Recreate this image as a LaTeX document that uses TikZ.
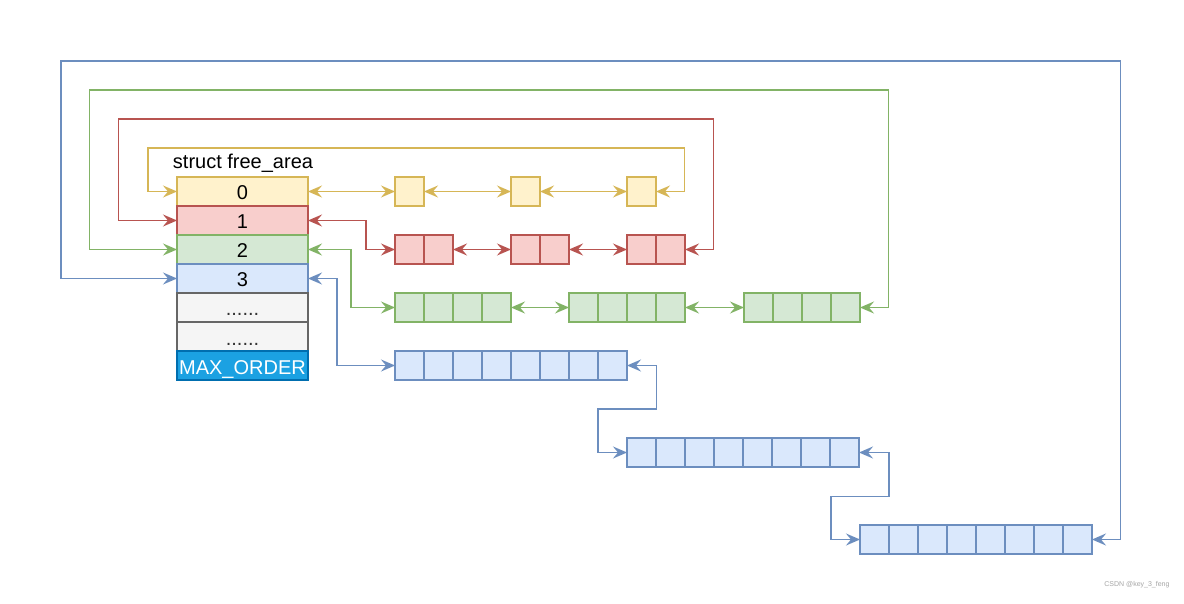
\documentclass[tikz,border=0pt]{standalone}
\usepackage{fontspec}
\setmainfont{Liberation Sans}
\usetikzlibrary{arrows.meta,calc}
\definecolor{yfill}{HTML}{FFF2CC}\definecolor{ydraw}{HTML}{D6B656}
\definecolor{rfill}{HTML}{F8CECC}\definecolor{rdraw}{HTML}{B85450}
\definecolor{gfill}{HTML}{D5E8D4}\definecolor{gdraw}{HTML}{82B366}
\definecolor{bfill}{HTML}{DAE8FC}\definecolor{bdraw}{HTML}{6C8EBF}
\definecolor{kfill}{HTML}{F5F5F5}\definecolor{kdraw}{HTML}{666666}
\definecolor{mfill}{HTML}{1BA1E2}\definecolor{mdraw}{HTML}{006EAF}
\begin{document}
\begin{tikzpicture}[x=1pt,y=-1pt,
  cell/.style={draw, line width=1.8pt, minimum width=29pt, minimum height=29pt, inner sep=0pt, outer sep=0pt},
  ycell/.style={cell, fill=yfill, draw=ydraw},
  rcell/.style={cell, fill=rfill, draw=rdraw},
  gcell/.style={cell, fill=gfill, draw=gdraw},
  bcell/.style={cell, fill=bfill, draw=bdraw},
  trow/.style={draw, line width=1.8pt, minimum width=131pt, minimum height=29pt, inner sep=0pt, outer sep=0pt, text height=17pt, text depth=0pt, font=\fontsize{20}{24}\selectfont},
  link/.style={line width=1.7pt, {Stealth[length=14pt,width=12pt,inset=5pt]}-{Stealth[length=14pt,width=12pt,inset=5pt]}},
  ylink/.style={link, color=ydraw},
  rlink/.style={link, color=rdraw},
  glink/.style={link, color=gdraw},
  blink/.style={link, color=bdraw}]
\useasboundingbox (0,0) rectangle (1184,604);
\fill[white] (0,0) rectangle (1184,604);

% table
\node[font=\fontsize{20}{24}\selectfont] (title) at (243,163) {struct free\_area};
\node[trow, fill=yfill, draw=ydraw] (t0) at (242.5,191.5) {0};
\node[trow, fill=rfill, draw=rdraw] (t1) at (242.5,220.5) {1};
\node[trow, fill=gfill, draw=gdraw] (t2) at (242.5,249.5) {2};
\node[trow, fill=bfill, draw=bdraw] (t3) at (242.5,278.5) {3};
\node[trow, fill=kfill, draw=kdraw, text=black!80] (t4) at (242.5,307.5) {......};
\node[trow, fill=kfill, draw=kdraw, text=black!80] (t5) at (242.5,336.5) {......};
\node[trow, fill=mfill, draw=mdraw, text=white] (t6) at (242.5,365.5) {MAX\_ORDER};

% cells
\foreach \n/\x in {1/395,2/511,3/627}
  \node[ycell] (y\n) at (\x+14.5,191.5) {};
\foreach \n/\x in {1/395,2/511,3/627}
  \foreach \j/\l in {0/a,1/b}
    \node[rcell] (r\n\l) at (\x+14.5+29*\j,249.5) {};
\foreach \n/\x in {1/395,2/569,3/744}
  \foreach \j/\l in {0/a,1/b,2/c,3/d}
    \node[gcell] (g\n\l) at (\x+14.5+29*\j,307.5) {};
\foreach \n/\x/\y in {1/395/365.5,2/627/452.5,3/860/539.5}
  \foreach \j/\l in {0/a,1/b,2/c,3/d,4/e,5/f,6/g,7/h}
    \node[bcell] (b\n\l) at (\x+14.5+29*\j,\y) {};

% turning points
\coordinate (ytop) at (148,148);
\coordinate (rtop) at (118.5,119);
\coordinate (gtop) at (89.5,90);
\coordinate (btop) at (61,61);

% yellow links
\draw[ylink] (t0.east) -- (y1.west);
\draw[ylink] (y1.east) -- (y2.west);
\draw[ylink] (y2.east) -- (y3.west);
\draw[ylink] (t0.west) -| (ytop) -| ($(y3.east)+(28.5,0)$) -- (y3.east);

% red links
\draw[rlink] (t1.east) -| ($(r1a.west)+(-29,0)$) -- (r1a.west);
\draw[rlink] (r1b.east) -- (r2a.west);
\draw[rlink] (r2b.east) -- (r3a.west);
\draw[rlink] (t1.west) -| (rtop) -| ($(r3b.east)+(28.5,0)$) -- (r3b.east);

% green links
\draw[glink] (t2.east) -| ($(g1a.west)+(-44,0)$) -- (g1a.west);
\draw[glink] (g1d.east) -- (g2a.west);
\draw[glink] (g2d.east) -- (g3a.west);
\draw[glink] (t2.west) -| (gtop) -| ($(g3d.east)+(28.5,0)$) -- (g3d.east);

% blue links
\draw[blink] (t3.east) -| ($(b1a.west)+(-58,0)$) -- (b1a.west);
\coordinate (bm1) at (656.5,409);
\coordinate (bm2) at (889,496.5);
\draw[blink] (b1h.east) -| (bm1) -| ($(b2a.west)+(-29,0)$) -- (b2a.west);
\draw[blink] (b2h.east) -| (bm2) -| ($(b3a.west)+(-29,0)$) -- (b3a.west);
\draw[blink] (t3.west) -| (btop) -| ($(b3h.east)+(28.5,0)$) -- (b3h.east);

% watermark
\node[text=black!35, font=\fontsize{7}{8}\selectfont, anchor=east] (wm) at (1173,585) {CSDN @key\_3\_feng};
\end{tikzpicture}
\end{document}
